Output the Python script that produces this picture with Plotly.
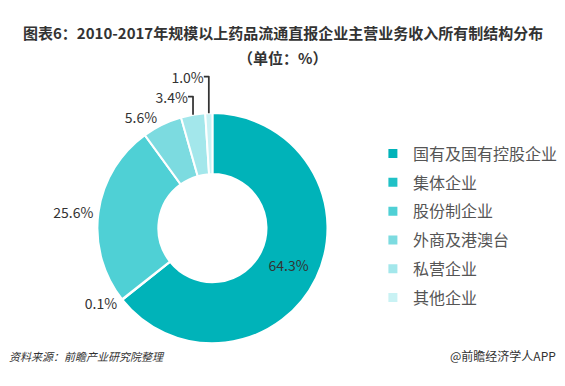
import plotly.graph_objects as go

categories = ["国有及国有控股企业", "集体企业", "股份制企业", "外商及港澳台", "私营企业", "其他企业"]
values = [64.3, 0.1, 25.6, 5.6, 3.4, 1.0]
label_text = ["64.3%", "0.1%", "25.6%", "5.6%", "3.4%", "1.0%"]
colors = ["#00B3B9", "#20C1C6", "#4FD0D5", "#7CDBE0", "#A3E7EB", "#C9F2F4"]

FONT = "Noto Sans CJK SC"

fig = go.Figure()
fig.add_trace(go.Pie(
    labels=categories, values=values, text=label_text,
    textinfo="text", hole=0.47, sort=False, direction="clockwise", rotation=0,
    marker=dict(colors=colors, line=dict(color="white", width=2)),
    textposition=["inside", "outside", "outside", "outside", "outside", "outside"],
    textfont=dict(size=14, color="#333333", family=FONT),
    insidetextorientation="horizontal",
    domain=dict(x=[0.17, 0.582], y=[0.111, 0.707]),
    showlegend=False,
))

# legend entries (one per category) so spacing can match the reference
for cat, col in zip(categories, colors):
    fig.add_trace(go.Scatter(
        x=[None], y=[None], mode="markers", name=cat, legendgroup=cat,
        marker=dict(symbol="square", size=9, color=col),
    ))

fig.update_layout(
    width=565, height=386,
    margin=dict(l=0, r=0, t=0, b=0),
    paper_bgcolor="white", plot_bgcolor="white",
    font=dict(family=FONT, color="#333333"),
    xaxis=dict(visible=False), yaxis=dict(visible=False),
    legend=dict(x=0.66, y=0.646, xanchor="left", yanchor="top",
                font=dict(size=16, color="#555555", family=FONT),
                itemwidth=30, tracegroupgap=5, bgcolor="rgba(0,0,0,0)"),
    annotations=[
        dict(text="<b>图表6：2010-2017年规模以上药品流通直报企业主营业务收入所有制结构分布</b>",
             x=0.5, y=0.948, xref="paper", yref="paper", showarrow=False,
             font=dict(size=15, color="#333333")),
        dict(text="<b>（单位：%）</b>", x=0.5, y=0.883, xref="paper", yref="paper", showarrow=False,
             font=dict(size=15, color="#333333")),
        dict(text="<i>资料来源：前瞻产业研究院整理</i>", x=0.012, y=0.052, xref="paper", yref="paper",
             xanchor="left", showarrow=False, font=dict(size=11, color="#333333")),
        dict(text="@前瞻经济学人APP", x=0.987, y=0.052, xref="paper", yref="paper",
             xanchor="right", showarrow=False, font=dict(size=12, color="#333333")),
    ],
)

fig.write_html("out.html", config={"displayModeBar": False},
               post_script="document.body.style.margin='0';")
